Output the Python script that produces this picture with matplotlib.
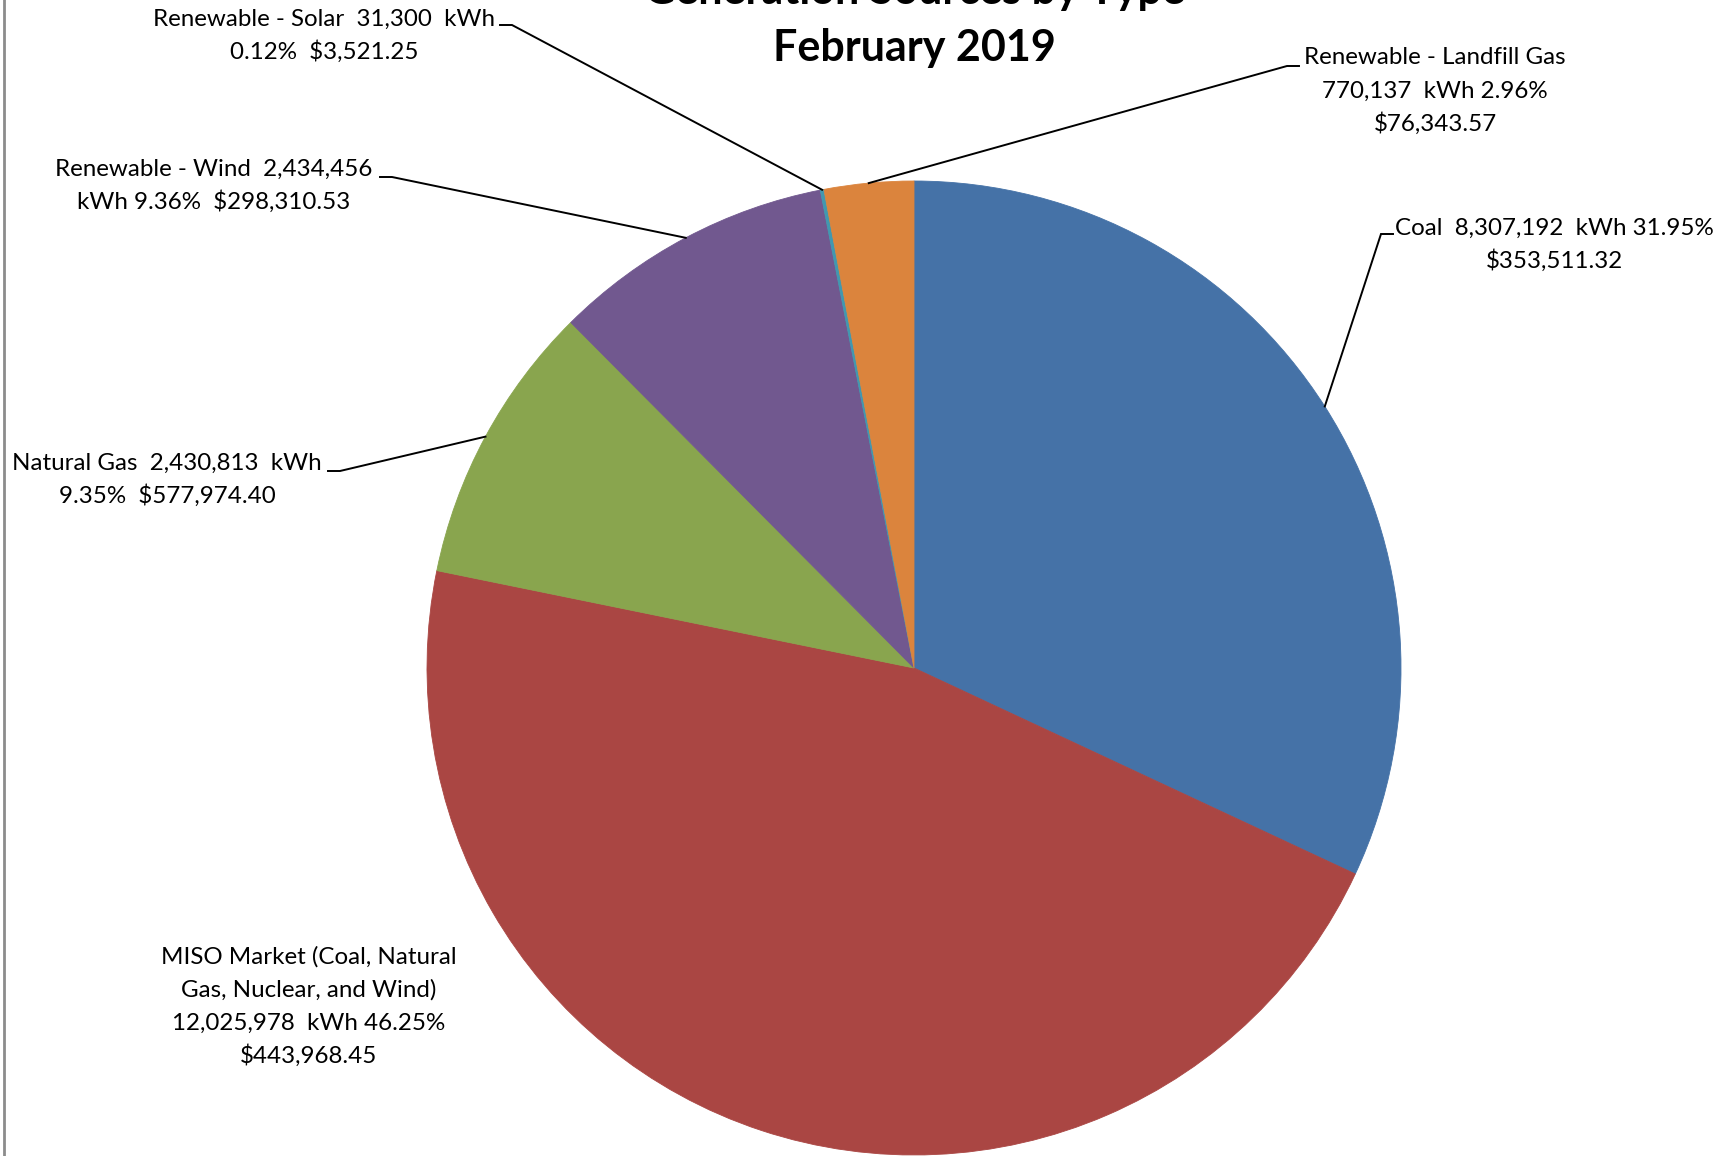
import matplotlib
matplotlib.use("Agg")
import matplotlib.pyplot as plt
import numpy as np

# ---- data ----
categories = ["Coal", "MISO Market (Coal, Natural Gas, Nuclear, and Wind)", "Natural Gas",
              "Renewable - Wind", "Renewable - Solar", "Renewable - Landfill Gas"]
kwh = [8307192, 12025978, 2430813, 2434456, 31300, 770137]
pct = [31.95, 46.25, 9.35, 9.36, 0.12, 2.96]
cost = [353511.32, 443968.45, 577974.40, 298310.53, 3521.25, 76343.57]
colors = ["#4572A7", "#AA4643", "#89A54E", "#71588F", "#4198AF", "#DB843D"]
title_lines = ["Generation Sources by Type", "February 2019"]

def fmt_k(v):
    return f"{v:,}"

def fmt_c(v):
    return f"${v:,.2f}"

label_lines = [
    [f"Coal  {fmt_k(kwh[0])}  kWh {pct[0]:.2f}%", fmt_c(cost[0])],
    ["MISO Market (Coal, Natural", "Gas, Nuclear, and Wind)",
     f"{fmt_k(kwh[1])}  kWh {pct[1]:.2f}%", fmt_c(cost[1])],
    [f"Natural Gas  {fmt_k(kwh[2])}  kWh", f"{pct[2]:.2f}%  {fmt_c(cost[2])}"],
    [f"Renewable - Wind  {fmt_k(kwh[3])}", f"kWh {pct[3]:.2f}%  {fmt_c(cost[3])}"],
    [f"Renewable - Solar  {fmt_k(kwh[4])}  kWh", f"{pct[4]:.2f}%  {fmt_c(cost[4])}"],
    ["Renewable - Landfill Gas", f"{fmt_k(kwh[5])}  kWh {pct[5]:.2f}%", fmt_c(cost[5])],
]

# ---- layout (pixel coords, y measured from top) ----
W, H = 1726, 1156
CX, CY, R = 914, 668, 487
label_center = [(1554, 228), (309, 957), (167, 463), (214, 169), (324, 19), (1435, 58)]
elbow = [(1381, 234), None, (340, 471), (392, 177), (512, 25), (1287, 66)]
stub = [(1393, 234), None, (328, 471), (380, 177), (500, 25), (1299, 66)]
pitch = 33
FONT = "Lato"
FS = 17.4

fig = plt.figure(figsize=(W / 100, H / 100), dpi=100)
ax = fig.add_axes([0, 0, 1, 1])

def Y(y):
    return H - y

wedges, _ = ax.pie(kwh, colors=colors, startangle=90, counterclock=False,
                   center=(CX, Y(CY)), radius=R,
                   wedgeprops=dict(linewidth=0.6, edgecolor="white"))
for w, c in zip(wedges, colors):
    w.set_edgecolor(c)

ax.set_xlim(0, W)
ax.set_ylim(0, H)
ax.set_aspect("auto")
ax.axis("off")

# leader lines
for i, w in enumerate(wedges):
    if elbow[i] is None:
        continue
    th = np.deg2rad((w.theta1 + w.theta2) / 2)
    px = CX + R * np.cos(th)
    py = Y(CY) + R * np.sin(th)
    ex, ey = elbow[i]
    sx, sy = stub[i]
    ax.plot([px, ex, sx], [py, Y(ey), Y(sy)], color="black", lw=1.4,
            solid_joinstyle="miter", zorder=3)

# labels
for i, lines in enumerate(label_lines):
    x, y0 = label_center[i]
    for k, t in enumerate(lines):
        ax.text(x, Y(y0 + k * pitch), t, ha="center", va="center",
                fontsize=FS, family=FONT, color="black")

# title (first line runs off the top edge, as in the original)
for k, t in enumerate(title_lines):
    ax.text(CX, Y(4 + 57 * k), t, ha="center", va="baseline",
            fontsize=31, family=FONT, fontweight="bold", color="black")

# left border of chart area
ax.plot([4, 4], [0, H], color="#8c8c8c", lw=2)

fig.savefig("out.png", dpi=100)
